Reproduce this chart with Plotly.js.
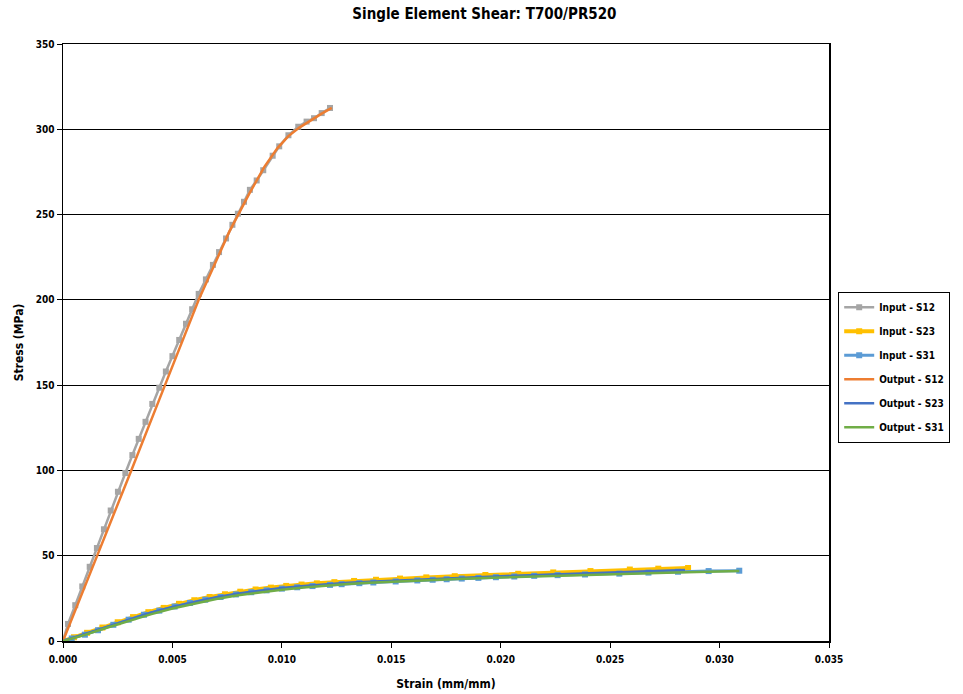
<!DOCTYPE html>
<html>
<head>
<meta charset="utf-8">
<script src="https://cdn.plot.ly/plotly-3.0.1.min.js"></script>
<style>html,body{margin:0;padding:0;background:#fff;}</style>
</head>
<body>
<div id="chart" style="width:963px;height:694px;"></div>
<script>
// ---- Data ----
const seriesNames = ["Input - S12", "Input - S23", "Input - S31", "Output - S12", "Output - S23", "Output - S31"];

const inS12_x = [0, 0.00023, 0.00056, 0.00088, 0.00122, 0.00155, 0.00187, 0.00218, 0.00251, 0.00285, 0.00317, 0.00346, 0.00377, 0.00408, 0.0044, 0.0047, 0.005, 0.00531, 0.00562, 0.0059, 0.0062, 0.00653, 0.00685, 0.00713, 0.00745, 0.00774, 0.00799, 0.00827, 0.00854, 0.00885, 0.00915, 0.00958, 0.00988, 0.0103, 0.01075, 0.01113, 0.01147, 0.01182, 0.0122];
const inS12_y = [0, 10, 21, 32, 43.5, 54.5, 65.5, 76.5, 87.5, 98.5, 109, 118.5, 128.5, 139, 148.5, 158, 167, 176.5, 186, 194.5, 203.5, 212, 220.5, 228, 236, 244, 250.5, 257.5, 264.5, 270, 276, 284.5, 290, 296.5, 301.5, 304.5, 306.5, 309.5, 312.5];

const inS23_x = [0, 0.0005, 0.0011, 0.0018, 0.0025, 0.0032, 0.0039, 0.0046, 0.0053, 0.006, 0.0067, 0.0074, 0.0081, 0.0088, 0.0095, 0.0102, 0.0109, 0.0116, 0.0124, 0.0133, 0.0143, 0.0154, 0.0166, 0.0179, 0.0193, 0.0208, 0.0224, 0.0241, 0.0259, 0.0272, 0.02856];
const inS23_y = [0, 2.2, 4.8, 7.9, 11.0, 14.0, 16.9, 19.4, 21.8, 23.9, 25.8, 27.4, 28.9, 30.2, 31.3, 32.3, 33.1, 33.8, 34.5, 35.2, 35.9, 36.6, 37.3, 38.0, 38.7, 39.4, 40.2, 41.0, 41.9, 42.4, 42.8];

const inS31_x = [0, 0.0004, 0.001, 0.0016, 0.0023, 0.003, 0.0037, 0.0044, 0.0051, 0.0058, 0.0065, 0.0072, 0.0079, 0.0086, 0.0093, 0.0100, 0.0107, 0.0114, 0.0122, 0.01273, 0.01354, 0.01418, 0.0152, 0.01619, 0.01689, 0.01753, 0.01822, 0.01898, 0.01978, 0.02062, 0.02153, 0.0226, 0.02385, 0.02542, 0.02675, 0.0281, 0.0295, 0.0309];
const inS31_y = [0, 1.5, 3.7, 6.3, 9.5, 12.5, 15.4, 17.8, 20.2, 22.3, 24.2, 25.8, 27.3, 28.6, 29.7, 30.7, 31.5, 32.2, 32.9, 33.3, 33.9, 34.3, 34.9, 35.5, 35.9, 36.2, 36.6, 37.0, 37.4, 37.8, 38.2, 38.6, 39.0, 39.5, 40.1, 40.6, 41.0, 41.2];

const outS12_x = [0, 0.00157, 0.00312, 0.00466, 0.0062, 0.0069, 0.0076, 0.0085, 0.0092, 0.0098, 0.0103, 0.0108, 0.0114, 0.0118, 0.01228];
const outS12_y = [0, 50, 100, 150, 200, 220, 240, 262, 278, 289, 296, 301, 306, 309, 312.5];

const outS23_x = [0, 0.001, 0.002, 0.003, 0.004, 0.005, 0.006, 0.007, 0.008, 0.009, 0.010, 0.011, 0.012, 0.013, 0.014, 0.015, 0.016, 0.018, 0.020, 0.022, 0.024, 0.026, 0.02842];
const outS23_y = [0, 4.2, 8.6, 12.8, 16.6, 20.0, 23.0, 25.6, 27.8, 29.6, 31.1, 32.3, 33.3, 34.1, 34.8, 35.4, 36.0, 37.0, 38.0, 38.9, 39.8, 40.6, 41.6];

const outS31_x = [0, 0.001, 0.002, 0.003, 0.004, 0.005, 0.006, 0.007, 0.008, 0.009, 0.010, 0.011, 0.012, 0.013, 0.014, 0.015, 0.016, 0.018, 0.020, 0.022, 0.024, 0.026, 0.028, 0.0309];
const outS31_y = [0, 3.6, 7.8, 11.8, 15.6, 19.0, 22.0, 24.6, 26.8, 28.6, 30.1, 31.4, 32.5, 33.4, 34.1, 34.7, 35.3, 36.3, 37.2, 38.0, 38.8, 39.5, 40.2, 41.1];

const xTicks = [0, 0.005, 0.010, 0.015, 0.020, 0.025, 0.030, 0.035];
const yTicks = [0, 50, 100, 150, 200, 250, 300, 350];

// ---- Styling ----
const FONT = "Liberation Sans Narrow, DejaVu Sans Condensed, Arial Narrow, sans-serif";
const colors = ["#A5A5A5", "#FFC000", "#5B9BD5", "#ED7D31", "#4472C4", "#70AD47"];
const inWidths = [2.5, 4, 3];

function inputTrace(x, y, i) {
  return {x: x, y: y, name: seriesNames[i], type: "scatter", mode: "lines+markers",
    line: {color: colors[i], width: inWidths[i]}, marker: {symbol: "square", size: 6, color: colors[i]},
    legendgroup: "g" + i};
}
function outputTrace(x, y, i) {
  return {x: x, y: y, name: seriesNames[i], type: "scatter", mode: "lines",
    line: {color: colors[i], width: 2.5},
    legendgroup: "g" + i};
}

const data = [
  inputTrace(inS12_x, inS12_y, 0),
  inputTrace(inS23_x, inS23_y, 1),
  inputTrace(inS31_x, inS31_y, 2),
  outputTrace(outS12_x, outS12_y, 3),
  outputTrace(outS23_x, outS23_y, 4),
  outputTrace(outS31_x, outS31_y, 5)
];

const layout = {
  width: 963, height: 694,
  paper_bgcolor: "#ffffff", plot_bgcolor: "#ffffff",
  font: {family: FONT, color: "#000000", size: 10, weight: "bold"},
  margin: {l: 63, r: 134, t: 44, b: 53},
  title: {text: "Single Element Shear: T700/PR520", x: 0.503, xref: "container", xanchor: "center",
          y: 0.98, yref: "container", yanchor: "middle",
          font: {family: FONT, size: 15, weight: "bold", color: "#000"}},
  xaxis: {
    range: [0, 0.035], tickvals: xTicks, tickformat: ".3f",
    showgrid: false, zeroline: false,
    showline: true, linecolor: "#000", linewidth: 1.5, mirror: true,
    ticks: "outside", ticklen: 5, tickcolor: "#000", ticklabelstandoff: 3,
    tickfont: {family: FONT, size: 10, weight: "bold"},
    title: {text: "Strain (mm/mm)", standoff: 16, font: {family: FONT, size: 12, weight: "bold"}},
    automargin: false
  },
  yaxis: {
    range: [0, 350], tickvals: yTicks,
    showgrid: true, gridcolor: "#000", gridwidth: 1, zeroline: false,
    showline: true, linecolor: "#000", linewidth: 1.5, mirror: true,
    ticks: "outside", ticklen: 5, tickcolor: "#000",
    tickfont: {family: FONT, size: 10, weight: "bold"},
    title: {text: "Stress (MPa)", standoff: 9, font: {family: FONT, size: 12, weight: "bold"}},
    automargin: false
  },
  showlegend: true,
  legend: {x: 1.012, xanchor: "left", y: 0.585, yanchor: "top",
           bgcolor: "#fff", bordercolor: "#000", borderwidth: 1,
           font: {family: FONT, size: 10, weight: "bold"},
           traceorder: "grouped", tracegroupgap: 5, itemwidth: 30}
};

Plotly.newPlot("chart", data, layout, {displayModeBar: false, staticPlot: true});
</script>
</body>
</html>
